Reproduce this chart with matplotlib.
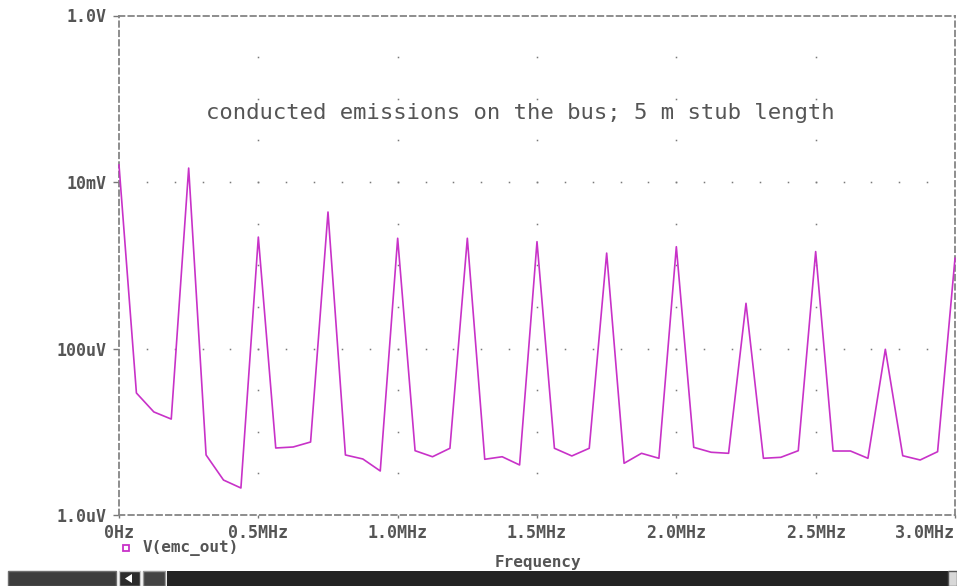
import numpy as np
import matplotlib
matplotlib.use('Agg')
import matplotlib.pyplot as plt
from matplotlib.patches import Rectangle, Polygon

# sweep points (MHz) and V(emc_out) in volts
freq_mhz = [0.0, 0.0625, 0.125, 0.1875, 0.25, 0.3125, 0.375, 0.4375,
            0.5, 0.5625, 0.625, 0.6875, 0.75, 0.8125, 0.875, 0.9375,
            1.0, 1.0625, 1.125, 1.1875, 1.25, 1.3125, 1.375, 1.4375,
            1.5, 1.5625, 1.625, 1.6875, 1.75, 1.8125, 1.875, 1.9375,
            2.0, 2.0625, 2.125, 2.1875, 2.25, 2.3125, 2.375, 2.4375,
            2.5, 2.5625, 2.625, 2.6875, 2.75, 2.8125, 2.875, 2.9375, 3.0]
v_out = [16.0e-3, 29.2e-6, 17.3e-6, 14.2e-6,
         14.7e-3, 5.26e-6, 2.63e-6, 2.11e-6,
         2.18e-3, 6.38e-6, 6.56e-6, 7.53e-6,
         4.36e-3, 5.26e-6, 4.71e-6, 3.38e-6,
         2.11e-3, 5.92e-6, 5.01e-6, 6.33e-6,
         2.11e-3, 4.67e-6, 5.01e-6, 3.99e-6,
         1.92e-3, 6.33e-6, 5.12e-6, 6.33e-6,
         1.40e-3, 4.18e-6, 5.51e-6, 4.80e-6,
         1.67e-3, 6.50e-6, 5.67e-6, 5.51e-6,
         349e-6, 4.80e-6, 4.93e-6, 5.92e-6,
         1.46e-3, 5.87e-6, 5.87e-6, 4.80e-6,
         97.8e-6, 5.15e-6, 4.58e-6, 5.76e-6,
         1.21e-3]

x_ticks = [0.0, 0.5, 1.0, 1.5, 2.0, 2.5, 3.0]
x_labels = ['0Hz', '0.5MHz', '1.0MHz', '1.5MHz', '2.0MHz', '2.5MHz', '3.0MHz']
y_ticks = [1e-6, 1e-4, 1e-2, 1.0]
y_labels = ['1.0uV', '100uV', '10mV', '1.0V']

W, H = 957, 586
TXT = '#555555'
TRACE = '#c832c8'
MONO = 'DejaVu Sans Mono'


def px(x, y):
    return x / W, 1 - y / H


fig = plt.figure(figsize=(W / 100, H / 100), dpi=100)
ax = fig.add_axes([119 / W, 1 - 515 / H, (955 - 119) / W, (515 - 15.5) / H])
ax.set_yscale('log')
ax.set_xlim(0, 3.0)
ax.set_ylim(1e-6, 1.0)

# dotted grid like the probe window
gx = [t for t in x_ticks[1:-1]]
gy_half = 10 ** np.arange(-5.5, 0, 0.5)
for xv in gx:
    ax.plot([xv] * len(gy_half), gy_half, ls='none', marker='s', ms=1.1,
            mfc='#7a7a7a', mec='none', zorder=1)
gx_fine = np.arange(1, 30) / 10
for yv in y_ticks[1:-1]:
    ax.plot(gx_fine, [yv] * len(gx_fine), ls='none', marker='s', ms=1.1,
            mfc='#7a7a7a', mec='none', zorder=1)

ax.plot(freq_mhz, v_out, color=TRACE, lw=1.2, zorder=3, clip_on=False)

for sp in ax.spines.values():
    sp.set_linestyle((0, (3.0, 2.2)))
    sp.set_color('#858585')
    sp.set_linewidth(1.3)

ax.set_xticks(x_ticks)
ax.set_xticklabels(x_labels)
ax.set_yticks(y_ticks)
ax.set_yticklabels(y_labels)
ax.minorticks_off()
ax.tick_params(axis='y', direction='out', length=4, width=1, color='#777777',
               pad=5, labelsize=12, labelcolor=TXT)
ax.tick_params(axis='x', direction='out', length=2.5, width=1, color='#777777',
               pad=4, labelsize=12, labelcolor=TXT)
for lab in ax.get_xticklabels() + ax.get_yticklabels():
    lab.set_family(MONO)
    lab.set_fontweight('bold')
ax.get_xticklabels()[-1].set_horizontalalignment('right')
ax.get_xticklabels()[-1].set_x(3.0)

ax.text(1.44, 0.068, 'conducted emissions on the bus; 5 m stub length',
        transform=ax.transData, ha='center', va='center', family=MONO,
        fontsize=16, color=TXT)

# legend entry and axis title
fig.add_artist(Rectangle(px(123, 551), 6 / W, 6 / H, transform=fig.transFigure,
                         fc='white', ec=TRACE, lw=1.3))
fig.text(*px(143, 548), 'V(emc_out)', family=MONO, fontweight='bold',
         fontsize=11.5, color=TXT, va='center', ha='left')
fig.text(*px(538, 562), 'Frequency', family=MONO, fontweight='bold',
         fontsize=11.5, color=TXT, va='center', ha='center')

# scroll bar strip along the bottom
fig.add_artist(Rectangle(px(167, 586), (948 - 167) / W, 15 / H,
                         transform=fig.transFigure, fc='#232323', ec='none'))
fig.add_artist(Rectangle(px(8, 586), (116 - 8) / W, 15 / H,
                         transform=fig.transFigure, fc='#3d3d3d', ec='#6e6e6e', lw=1))
fig.add_artist(Rectangle(px(119, 586), 21 / W, 15 / H,
                         transform=fig.transFigure, fc='#2b2b2b', ec='#c8c8c8', lw=1))
fig.add_artist(Polygon([px(125, 578.5), px(132, 574), px(132, 583)], closed=True,
                       transform=fig.transFigure, fc='white', ec='none'))
fig.add_artist(Rectangle(px(143, 586), 22 / W, 15 / H,
                         transform=fig.transFigure, fc='#444444', ec='#9a9a9a', lw=1))
fig.add_artist(Rectangle(px(948, 586), 9 / W, 15 / H,
                         transform=fig.transFigure, fc='#d8d8d8', ec='#555555', lw=1))

fig.savefig('out.png', dpi=100)
